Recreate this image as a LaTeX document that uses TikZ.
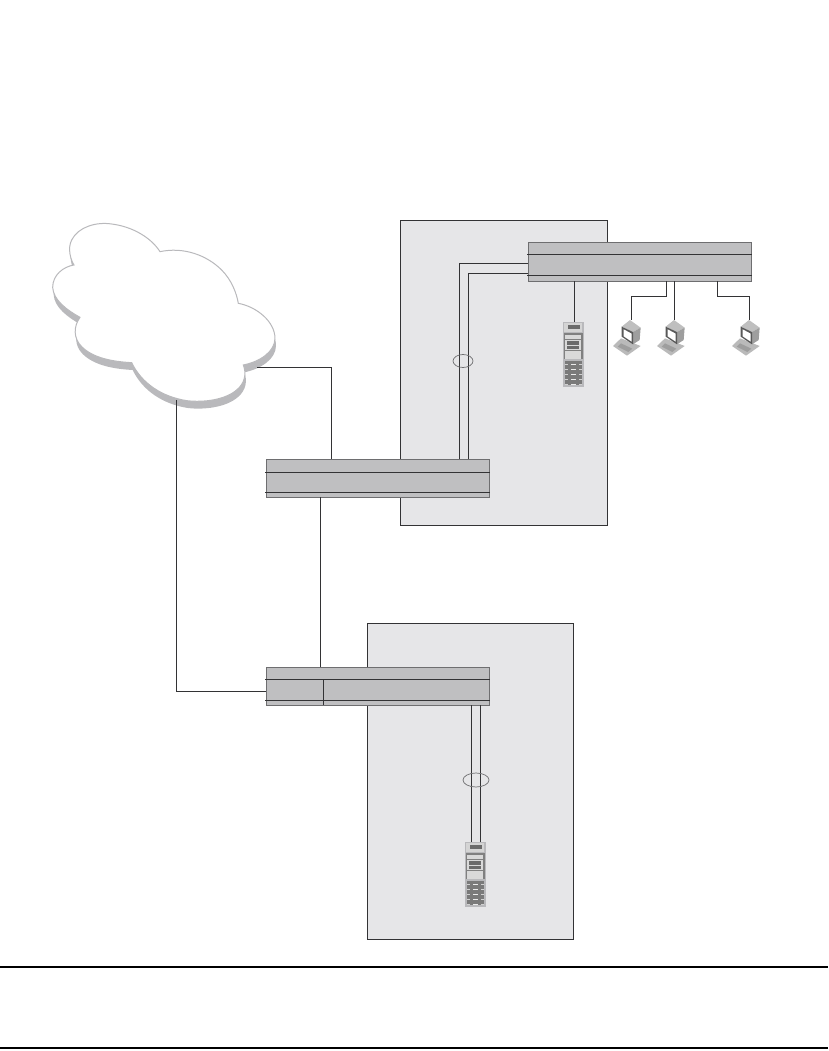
\documentclass[tikz,border=0pt]{standalone}
\usetikzlibrary{shapes.geometric}
\definecolor{panelc}{HTML}{E6E6E8}
\definecolor{switchc}{HTML}{BFBFC1}
\definecolor{edgec}{HTML}{6E6E70}
\definecolor{wirec}{HTML}{333335}
\definecolor{cloudc}{HTML}{B9B9BC}
\tikzset{
  panel/.style={draw=wirec,line width=.8pt,fill=panelc,rectangle,anchor=north west,inner sep=0pt,outer sep=0pt},
  switchbox/.style={draw=edgec,line width=1pt,fill=switchc,rectangle,anchor=north west,inner sep=0pt,outer sep=0pt,minimum width=223pt,minimum height=38pt},
  wire/.style={draw=wirec,line width=.85pt},
  bundle/.style={draw=edgec,line width=.7pt},
  slot/.style={anchor=center,inner sep=0pt,outer sep=0pt,minimum width=0pt,minimum height=0pt},
  pics/serverunit/.style={code={
    \begin{scope}[x=.3333pt,y=-.3333pt]
      \fill[cloudc] (0,0) rectangle (62,195);
      \fill[black!17] (4,4) rectangle (58,30);
      \fill[black!58] (15,10) rectangle (50,22);
      \fill[black!50] (3,33) rectangle (59,112);
      \fill[black!15] (7,38) rectangle (55,52);
      \fill[black!15] (7,55) rectangle (55,85);
      \fill[black!58] (13,58) rectangle (49,68);
      \fill[black!58] (13,72) rectangle (49,82);
      \fill[black!15] (7,88) rectangle (55,110);
      \fill[black!52] (5,118) rectangle (57,190);
      \foreach \r in {127,142,157,172,185}{
        \fill[black!18] (7,\r) rectangle (14,\r+3);
        \fill[black!8] (25,\r) rectangle (39,\r+3);
        \fill[black!18] (49,\r) rectangle (56,\r+3);
      }
    \end{scope}}},
  pics/pcunit/.style={code={
    \begin{scope}[x=.3333pt,y=-.3333pt]
      \fill[black!27] (0,78) -- (24,55) -- (83,78) -- (42,107) -- cycle;
      \fill[black!38] (14,80) -- (24,70) -- (58,86) -- (46,96) -- cycle;
      \fill[black!25] (26,20) -- (51,0) -- (83,23) -- (60,36) -- cycle;
      \fill[black!38] (60,36) -- (83,23) -- (80,60) -- (60,73) -- cycle;
      \fill[black!65] (26,20) -- (60,36) -- (60,73) -- (26,50) -- cycle;
      \fill[white] (32,28) -- (56,41) -- (56,65) -- (32,49) -- cycle;
    \end{scope}}}
}
\newcommand{\cloudoutline}{(132,165) .. controls (122,150) and (112,115) .. (125,90)
  .. controls (145,50) and (200,35) .. (245,42)
  .. controls (310,50) and (365,85) .. (390,125)
  .. controls (460,110) and (530,135) .. (575,180)
  .. controls (605,210) and (620,250) .. (625,280)
  .. controls (680,290) and (735,335) .. (735,385)
  .. controls (735,425) and (690,455) .. (640,465)
  .. controls (650,490) and (645,520) .. (620,540)
  .. controls (585,570) and (520,578) .. (470,572)
  .. controls (395,560) and (335,520) .. (305,458)
  .. controls (250,455) and (190,445) .. (155,410)
  .. controls (130,385) and (130,350) .. (150,322)
  .. controls (110,300) and (70,270) .. (68,232)
  .. controls (68,195) and (100,170) .. (132,165) -- cycle}
\begin{document}
\begin{tikzpicture}[x=1pt,y=-1pt]
\useasboundingbox (0,0) rectangle (828,1051);
% cloud
\begin{scope}[shift={(30,210)},x=.3333pt,y=-.3333pt]
  \fill[cloudc,shift={(3,22)}] \cloudoutline;
  \fill[white,draw=cloudc,line width=1pt] \cloudoutline;
\end{scope}
\coordinate (cloudE) at (257,367);
\coordinate (cloudS) at (176,400);
% zones
\node[panel,minimum width=207pt,minimum height=305pt] (zoneA) at (400,220) {};
\node[panel,minimum width=206pt,minimum height=316pt] (zoneB) at (367,623) {};
% devices
\node[slot,minimum width=21pt,minimum height=65pt] (srvA) at (573.5,354.5) {};
\pic at (563,322) {serverunit};
\node[slot,minimum width=21pt,minimum height=65pt] (srvB) at (475.5,874.5) {};
\pic at (465,842) {serverunit};
\node[slot,minimum width=28pt,minimum height=35pt] (pcA) at (627,337) {};
\pic at (613,320) {pcunit};
\node[slot,minimum width=28pt,minimum height=35pt] (pcB) at (671,337) {};
\pic at (657,320) {pcunit};
\node[slot,minimum width=28pt,minimum height=35pt] (pcC) at (746,337) {};
\pic at (732,320) {pcunit};
% switches
\node[switchbox,minimum height=39pt] (swTop) at (528,242) {};
\node[switchbox] (swMid) at (266,459) {};
\node[switchbox] (swLow) at (266,667) {};
% switch inner rules
\draw[wire] (527,254.5) -- (752,254.5);
\draw[wire] (527,275.5) -- (752,275.5);
\draw[wire] (265,472) -- (490,472);
\draw[wire] (265,492) -- (490,492);
\draw[wire] (265,679) -- (490,679);
\draw[wire] (265,700) -- (490,700);
\draw[wire] (323.5,679) -- (323.5,705);
% connectors
\draw[wire] (cloudE) -| (swMid.north -| 331,0);
\draw[wire] (cloudS) |- (swLow.west |- 0,691);
\draw[wire] (swMid.south -| 320.5,0) -- (swLow.north -| 320.5,0);
\draw[wire] (swMid.north -| 459,0) |- (swTop.west |- 0,263);
\draw[wire] (swMid.north -| 468,0) |- (swTop.west |- 0,273);
\draw[wire] (swTop.south -| 574.5,0) -- (srvA.north -| 574.5,0);
\draw[wire] (swTop.south -| 666,0) -- (666,296) -- (631,296) -- (pcA.north -| 631,0);
\draw[wire] (swTop.south -| 674.5,0) -- (pcB.north -| 674.5,0);
\draw[wire] (swTop.south -| 717.5,0) -- (717.5,296) -- (749,296) -- (pcC.north -| 749,0);
\draw[wire] (swLow.south -| 471.5,0) -- (srvB.north -| 471.5,0);
\draw[wire] (swLow.south -| 480.5,0) -- (srvB.north -| 480.5,0);
% bundle rings
\node[bundle,ellipse,minimum width=20pt,minimum height=13pt,inner sep=0pt] (ringA) at (463,361) {};
\node[bundle,ellipse,minimum width=26pt,minimum height=14pt,inner sep=0pt] (ringB) at (476,780) {};
% page rules
\draw[black,line width=1.4pt] (0,967) -- (828,967);
\draw[black,line width=1.4pt] (0,1048) -- (828,1048);
\end{tikzpicture}
\end{document}
